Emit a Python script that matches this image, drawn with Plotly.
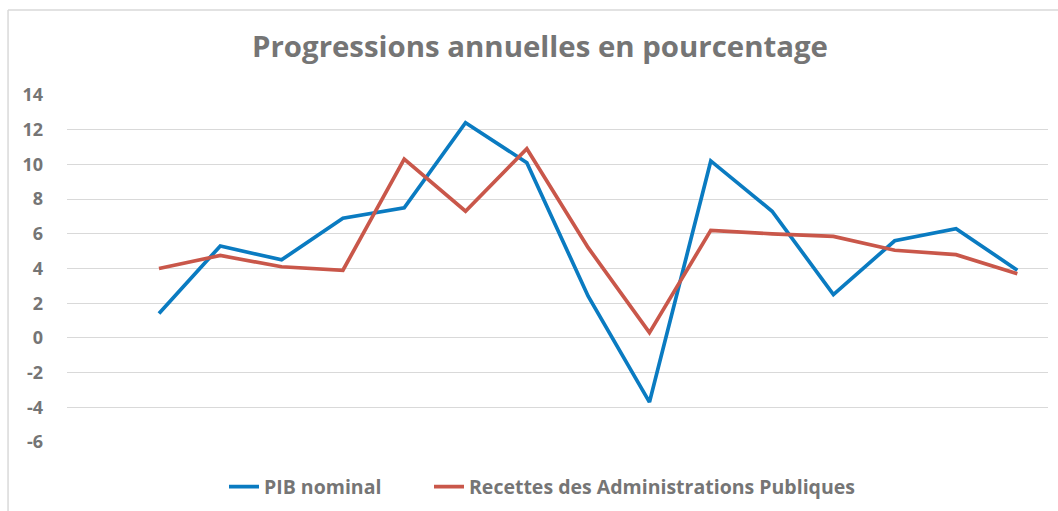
import plotly.graph_objects as go

title = "Progressions annuelles en pourcentage"
categories = list(range(15))
pib_nominal = [1.4, 5.3, 4.5, 6.9, 7.5, 12.4, 10.1, 2.4, -3.7, 10.2, 7.3, 2.5, 5.6, 6.3, 3.9]
recettes_apu = [4.0, 4.75, 4.1, 3.9, 10.3, 7.3, 10.9, 5.2, 0.3, 6.2, 6.0, 5.85, 5.05, 4.8, 3.7]
y_ticks = [-6, -4, -2, 0, 2, 4, 6, 8, 10, 12, 14]
y_tick_labels = ["-6", "-4", "-2", "0", "2", "4", "6", "8", "10", "12", "14"]

FONT = "Open Sans"
GREY = "#757575"

fig = go.Figure()
fig.add_trace(go.Scatter(x=categories, y=pib_nominal, mode="lines", name="PIB nominal",
                         line=dict(color="#0A7BC1", width=3.7), legend="legend"))
fig.add_trace(go.Scatter(x=categories, y=recettes_apu, mode="lines",
                         name="Recettes des Administrations Publiques",
                         line=dict(color="#C9574A", width=3.7), legend="legend2"))

legend_font = dict(family=FONT, size=19.5, color=GREY, weight="bold")
fig.update_layout(
    width=1058, height=511,
    margin=dict(l=67, r=10, t=95, b=69, autoexpand=False),
    paper_bgcolor="white", plot_bgcolor="white",
    title=dict(text=title, x=540 / 1058, xref="container", xanchor="center",
               y=1 - 47 / 511, yref="container", yanchor="middle",
               font=dict(family=FONT, size=29.4, color=GREY, weight="bold")),
    xaxis=dict(range=[-1.5, 14.5], showgrid=False, showticklabels=False, zeroline=False,
               showline=False, ticks="", automargin=False),
    yaxis=dict(range=[-6, 14], tickvals=y_ticks, ticktext=y_tick_labels, showgrid=True,
               gridcolor="#D9D9D9", gridwidth=1.3, zeroline=False, showline=False, ticks="",
               tickfont=dict(family=FONT, size=18, color=GREY, weight="bold"),
               ticklabelstandoff=23, automargin=False),
    showlegend=True,
    legend=dict(orientation="h", x=224 / 1058, xanchor="left", xref="container",
                y=1 - 487 / 511, yref="container", yanchor="middle", font=legend_font),
    legend2=dict(orientation="h", x=429 / 1058, xanchor="left", xref="container",
                 y=1 - 487 / 511, yref="container", yanchor="middle", font=legend_font),
    shapes=[
        dict(type="line", xref="paper", yref="paper", x0=-0.0601, x1=1.02, y0=1.245, y1=1.245,
             line=dict(color="#D9D9D9", width=1.5)),
        dict(type="line", xref="paper", yref="paper", x0=-0.0601, x1=-0.0601, y0=1.245, y1=-0.2,
             line=dict(color="#D9D9D9", width=1.5)),
    ],
)

fig.write_html("out.html", config={"displayModeBar": False},
               post_script="document.body.style.margin='0px';")
